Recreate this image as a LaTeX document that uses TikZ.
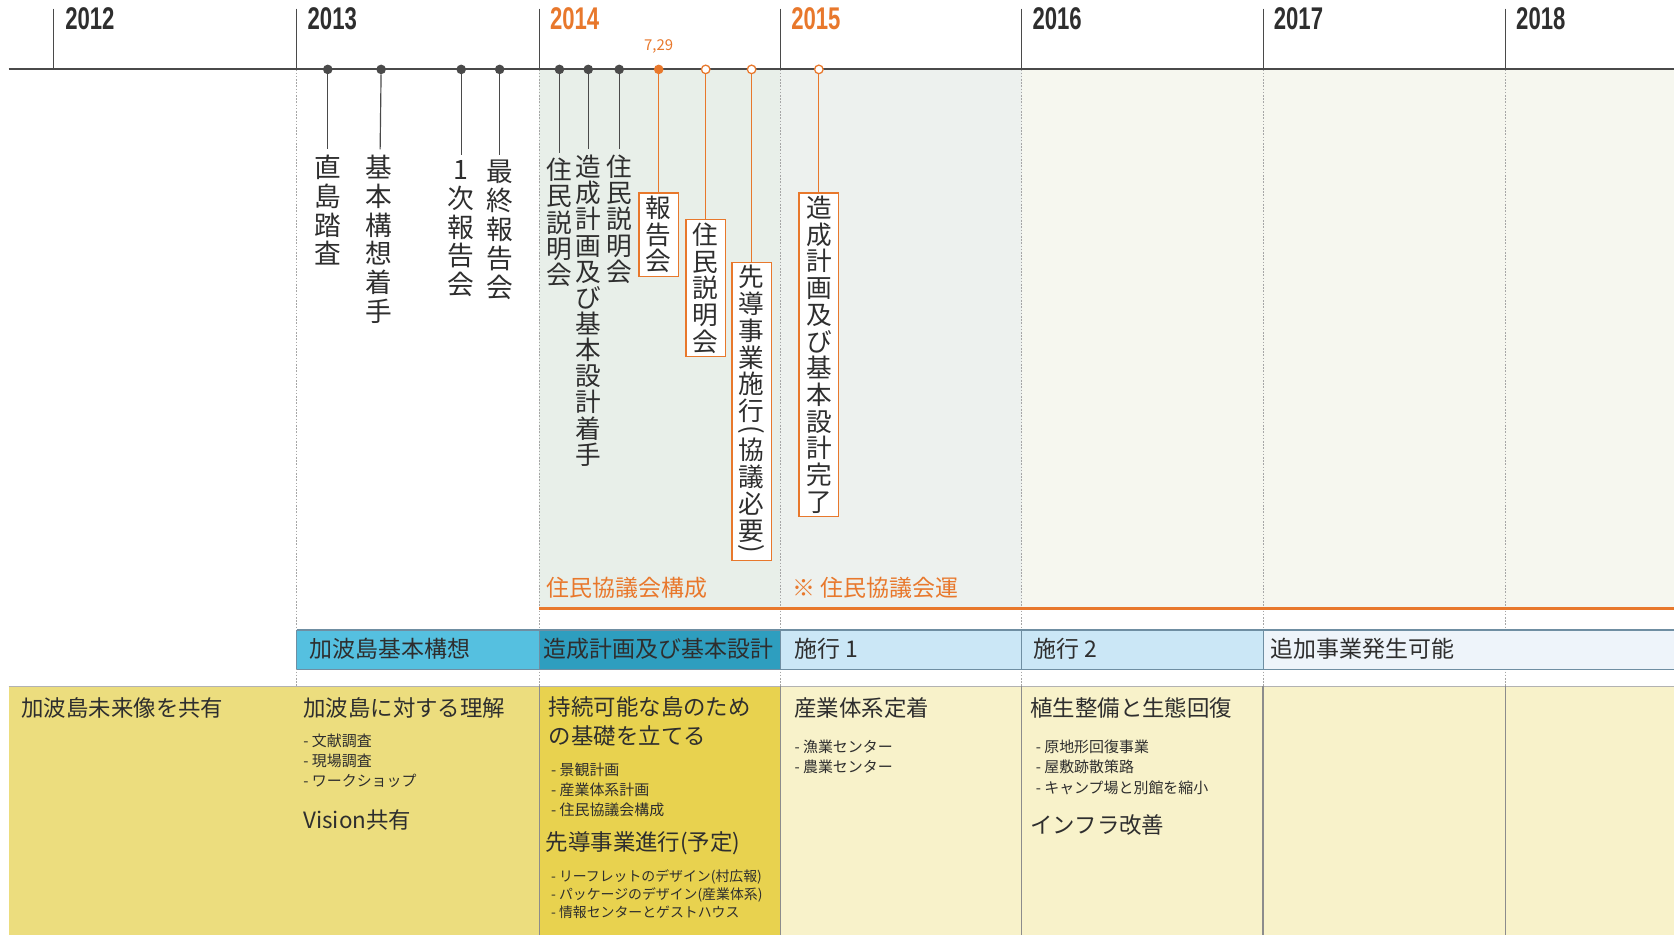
\documentclass[tikz,border=0pt]{standalone}
\usepackage{fontspec}
\newfontfamily\jp{Noto Sans CJK JP}
\newfontfamily\yf{Liberation Sans}
\definecolor{tl}{HTML}{4A4A4A}
\definecolor{txt}{HTML}{2E2E2E}
\definecolor{org}{HTML}{E8782C}
\definecolor{shA}{HTML}{E8EFE9}
\definecolor{shAA}{HTML}{EDF1EE}
\definecolor{shB}{HTML}{F6F7EF}
\definecolor{bA}{HTML}{55C0E0}
\definecolor{bB}{HTML}{2E9EBF}
\definecolor{bC}{HTML}{CBE7F6}
\definecolor{bD}{HTML}{EEF4FA}
\definecolor{bLine}{HTML}{6F8EA2}
\definecolor{yA}{HTML}{ECDD7E}
\definecolor{yB}{HTML}{E8D24F}
\definecolor{yC}{HTML}{F8F2CA}
\newcommand\yr[1]{\scalebox{0.74}[1.05]{#1}}
\newcommand\tightlines{\lineskiplimit=-100pt\relax\lineskip=0pt\relax}
\newcommand\vparen[1]{\rotatebox[origin=c]{-90}{#1}}
\begin{document}
\begin{tikzpicture}[x=1pt,y=-1pt,
  yearlbl/.style={font=\yf\bfseries\fontsize{28}{28}\selectfont,text=txt,inner sep=0,anchor=base west},
  yearlblo/.style={yearlbl,text=org},
  yeartick/.style={draw=tl,line width=0.9},
  mainline/.style={draw=tl,line width=2},
  gridline/.style={draw=black!35,line width=0.7,dash pattern=on 1.5pt off 1.5pt},
  colline/.style={draw=black!45,line width=1},
  dotk/.style={circle,fill=tl,inner sep=0,minimum size=9pt},
  doto/.style={circle,fill=org,inner sep=0,minimum size=9pt},
  dotw/.style={circle,fill=white,draw=org,line width=1.2,inner sep=0,minimum size=8pt},
  stemk/.style={draw=tl,line width=1.1},
  stemo/.style={draw=org,line width=1.1},
  vt/.style={font=\jp\fontsize{25}{27}\selectfont\tightlines,text=txt,align=center,inner xsep=0,inner ysep=5pt,anchor=north},
  vts/.style={vt,font=\jp\fontsize{24}{24.5}\selectfont\tightlines},
  vbox/.style={font=\jp\fontsize{24}{25}\selectfont\tightlines,text=txt,align=center,draw=org,line width=1.3,fill=white,inner xsep=5pt,inner ysep=3pt,minimum width=37pt,anchor=north},
  olbl/.style={font=\jp\fontsize{21.5}{24}\selectfont,text=org,inner sep=0,anchor=base west},
  barlbl/.style={font=\jp\fontsize{21.5}{24}\selectfont,text=txt,inner sep=0,anchor=base west},
  hd/.style={font=\jp\fontsize{21}{27}\selectfont,text=txt,inner sep=0,anchor=base west},
  hdm/.style={font=\jp\fontsize{21}{27}\selectfont,text=txt,inner sep=0,anchor=north west,align=left},
  sm/.style={font=\jp\fontsize{14}{19}\selectfont,text=txt,inner sep=0,anchor=north west,align=left},
  xs/.style={font=\jp\fontsize{13}{17}\selectfont,text=txt,inner sep=0,anchor=north west,align=left}
]
\useasboundingbox (0,0) rectangle (1568,876);
\fill[white] (0,0) rectangle (1568,876);
% background shading
\fill[shA] (505,65) rectangle (731,570);
\fill[shAA] (731,65) rectangle (957,570);
\fill[shB] (957,65) rectangle (1568,570);
% dotted year grid
\foreach \x in {278,505,731,957,1183,1410} \draw[gridline] (\x,65) -- (\x,643);
% year ticks
\foreach \x in {50,278,505,731,957,1183,1410} \draw[yeartick] (\x,8) -- (\x,65);
\node[yearlbl]  (y2012) at (61,28)   {\yr{2012}};
\node[yearlbl]  (y2013) at (288,28)  {\yr{2013}};
\node[yearlblo] (y2014) at (515,28)  {\yr{2014}};
\node[yearlblo] (y2015) at (741,28)  {\yr{2015}};
\node[yearlbl]  (y2016) at (967,28)  {\yr{2016}};
\node[yearlbl]  (y2017) at (1193,28) {\yr{2017}};
\node[yearlbl]  (y2018) at (1420,28) {\yr{2018}};
% main timeline
\draw[mainline] (8,65) -- (1568,65);
% dots
\node[dotk] (d1) at (307,65) {};
\node[dotk] (d2) at (357,65) {};
\node[dotk] (d3) at (432,65) {};
\node[dotk] (d4) at (468,65) {};
\node[dotk] (d5) at (524,65) {};
\node[dotk] (d6) at (551,65) {};
\node[dotk] (d7) at (580,65) {};
\node[doto] (d8) at (617,65) {};
\node[dotw] (d9) at (661,65) {};
\node[dotw] (d10) at (704,65) {};
\node[dotw] (d11) at (767,65) {};
\node[font=\jp\fontsize{14}{15}\selectfont,text=org,inner sep=0] (date) at (617,44) {7,29};
% vertical event labels
\node[vt] (v1) at (307,140) {直\\島\\踏\\査};
\node[vt] (v2) at (355,140) {基\\本\\構\\想\\着\\手};
\node[vt] (v3) at (432,145) {1\\次\\報\\告\\会};
\node[vt] (v4) at (468,145) {最\\終\\報\\告\\会};
\node[vts] (v5) at (524,143) {住\\民\\説\\明\\会};
\node[vts] (v6) at (551,140) {造\\成\\計\\画\\及\\び\\基\\本\\設\\計\\着\\手};
\node[vts] (v7) at (580,140) {住\\民\\説\\明\\会};
\node[vbox] (v8) at (617,180) {報\\告\\会};
\node[vbox] (v9) at (661,205) {住\\民\\説\\明\\会};
\node[vbox] (v10) at (704,245) {先\\導\\事\\業\\施\\行\\[-9pt]\vparen{(}\\[-4pt]協\\議\\必\\要\\[-9pt]\vparen{)}};
\node[vbox] (v11) at (767,180) {造\\成\\計\\画\\及\\び\\基\\本\\設\\計\\完\\了};
% stems
\draw[stemk] (d1) -- (v1);
\draw[stemk] (d2) -- (v2);
\draw[stemk] (d3) -- (v3);
\draw[stemk] (d4) -- (v4);
\draw[stemk] (d5) -- (v5);
\draw[stemk] (d6) -- (v6);
\draw[stemk] (d7) -- (v7);
\draw[stemo] (d8) -- (v8);
\draw[stemo] (d9) -- (v9);
\draw[stemo] (d10) -- (v10);
\draw[stemo] (d11) -- (v11);
% residents council line
\node[olbl] (oc1) at (512,559) {住民協議会構成};
\node[olbl] (oc2) at (742,559) {※ 住民協議会運};
\draw[draw=org,line width=2] (505,570) -- (1568,570);
% phase bar
\fill[bA] (278,590) rectangle (505,627);
\fill[bB] (505,590) rectangle (731,627);
\fill[bC] (731,590) rectangle (1183,627);
\fill[bD] (1183,590) rectangle (1568,627);
\foreach \x in {505,731,957,1183} \draw[draw=bLine,line width=0.8] (\x,590) -- (\x,627);
\draw[draw=bLine,line width=1.3] (278,590) -- (1568,590) (278,627) -- (1568,627);
\draw[draw=bLine,line width=0.8] (278,590) -- (278,627);
\node[barlbl] (p1) at (290,616) {加波島基本構想};
\node[barlbl] (p2) at (509,616) {造成計画及び基本設計};
\node[barlbl] (p3) at (744,616) {施行 1};
\node[barlbl] (p4) at (968,616) {施行 2};
\node[barlbl] (p5) at (1190,616) {追加事業発生可能};
% bottom yellow blocks
\fill[yA] (8,643) rectangle (505,876);
\fill[yB] (505,643) rectangle (731,876);
\fill[yC] (731,643) rectangle (1568,876);
\draw[draw=black!30,line width=1] (8,643) -- (1568,643);
\foreach \x in {505,731,957,1183,1410} \draw[colline] (\x,643) -- (\x,876);
% column texts
\node[hd] (c1) at (20,671) {加波島未来像を共有};
\node[hd] (c2) at (284,671) {加波島に対する理解};
\node[sm] (c2b) at (284,687) {- 文献調査\\- 現場調査\\- ワークショップ};
\node[hd] (c2v) at (284,776) {Vision共有};
\node[hdm] (c3) at (514,652) {持続可能な島のため\\の基礎を立てる};
\node[sm] (c3b) at (516,714) {- 景観計画\\- 産業体系計画\\- 住民協議会構成};
\node[hd] (c3h) at (511,797) {先導事業進行(予定)};
\node[xs] (c3c) at (516,814) {- リーフレットのデザイン(村広報)\\- パッケージのデザイン(産業体系)\\- 情報センターとゲストハウス};
\node[hd] (c4) at (744,671) {産業体系定着};
\node[sm] (c4b) at (744,693) {- 漁業センター\\- 農業センター};
\node[hd] (c5) at (965,671) {植生整備と生態回復};
\node[sm] (c5b) at (970,693) {- 原地形回復事業\\- 屋敷跡散策路\\- キャンプ場と別館を縮小};
\node[hd] (c5h) at (965,781) {インフラ改善};
\end{tikzpicture}
\end{document}
